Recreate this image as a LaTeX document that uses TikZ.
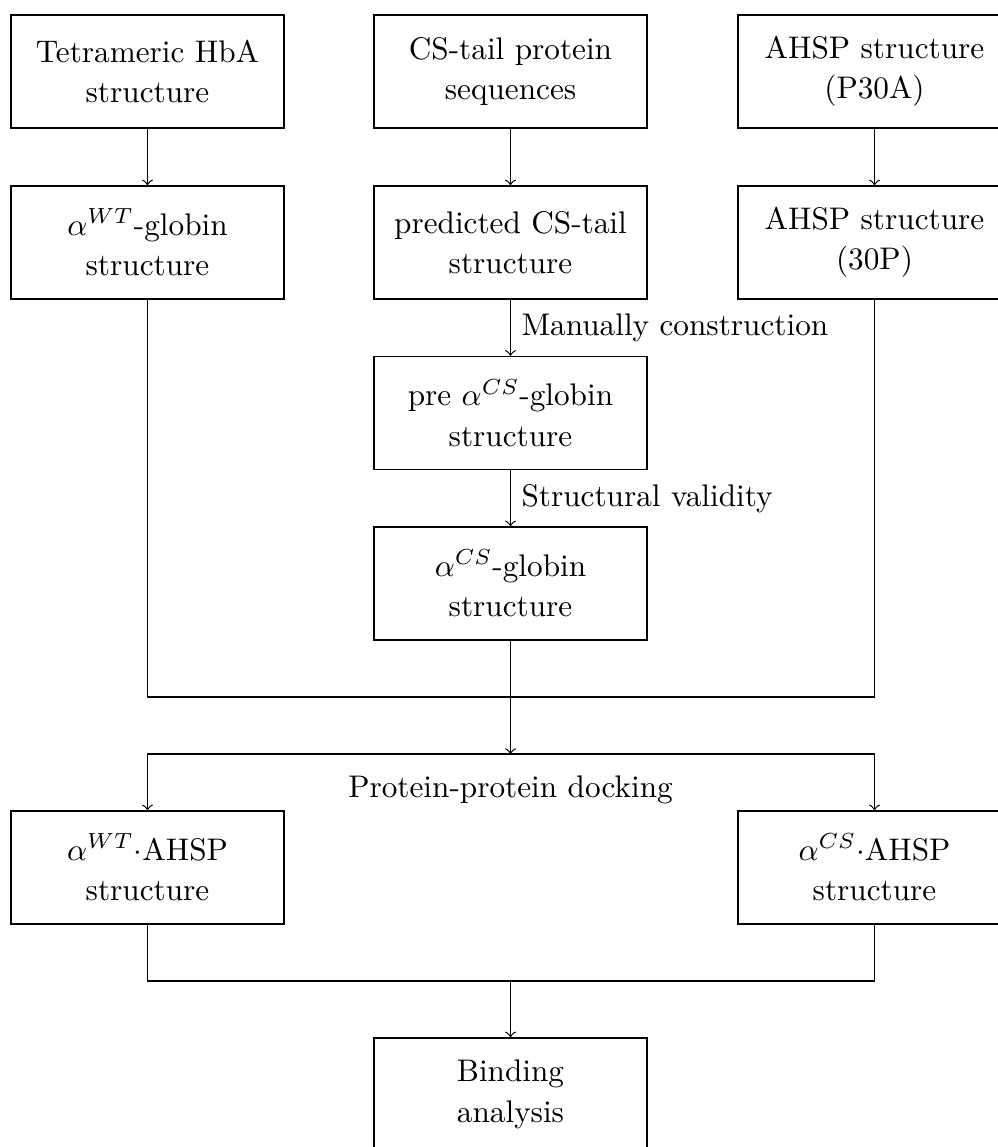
\documentclass[tikz,border=0pt]{standalone}
\begin{document}
\begin{tikzpicture}[x=0.32pt,y=-0.32pt,
  box/.style={draw, minimum width=87.4pt, minimum height=36.2pt, inner sep=0pt,
    align=center, font=\fontsize{10}{12.9}\selectfont},
  lbl/.style={font=\fontsize{10}{12}\selectfont},
  arr/.style={->}]
\clip (0,0) rectangle (998,1147);
% row 1
\node[box] (t1) at (147.5,71.5) {Tetrameric HbA\\structure};
\node[box] (t2) at (510.5,71.5) {CS-tail protein\\sequences};
\node[box] (t3) at (874.5,71.5) {AHSP structure\\(P30A)};
% row 2
\node[box] (b1) at (147.5,242.5) {$\alpha^{WT}$-globin\\structure};
\node[box] (b2) at (510.5,242.5) {predicted CS-tail\\structure};
\node[box] (b3) at (874.5,242.5) {AHSP structure\\(30P)};
% middle column
\node[box] (pre) at (510.5,413) {pre $\alpha^{CS}$-globin\\structure};
\node[box] (cs) at (510.5,583.5) {$\alpha^{CS}$-globin\\structure};
% complexes
\node[box] (d1) at (147.5,867.5) {$\alpha^{WT}\cdot$AHSP\\structure};
\node[box] (d3) at (874.5,867.5) {$\alpha^{CS}\cdot$AHSP\\structure};
\node[box] (ba) at (510.5,1094.5) {Binding\\analysis};
% docking label
\node[lbl, anchor=base, inner sep=0pt] (dock) at (510.5,797) {Protein-protein docking};
% junctions
\coordinate (jm) at (510.5,697);
\coordinate (sm) at (510.5,754);
\coordinate (km) at (510.5,981);
% connectors
\draw[arr] (t1) -- (b1);
\draw[arr] (t2) -- (b2);
\draw[arr] (t3) -- (b3);
\draw[arr] (b2) -- node[lbl, right] {Manually construction} (pre);
\draw[arr] (pre) -- node[lbl, right] {Structural validity} (cs);
\draw (b1.south) |- (jm) -| (b3.south);
\draw[arr] (cs.south) -- (sm);
\draw[arr] (sm) -| (d1.north);
\draw[arr] (sm) -| (d3.north);
\draw (d1.south) |- (km);
\draw (d3.south) |- (km);
\draw[arr] (km) -- (ba.north);
\end{tikzpicture}
\end{document}
